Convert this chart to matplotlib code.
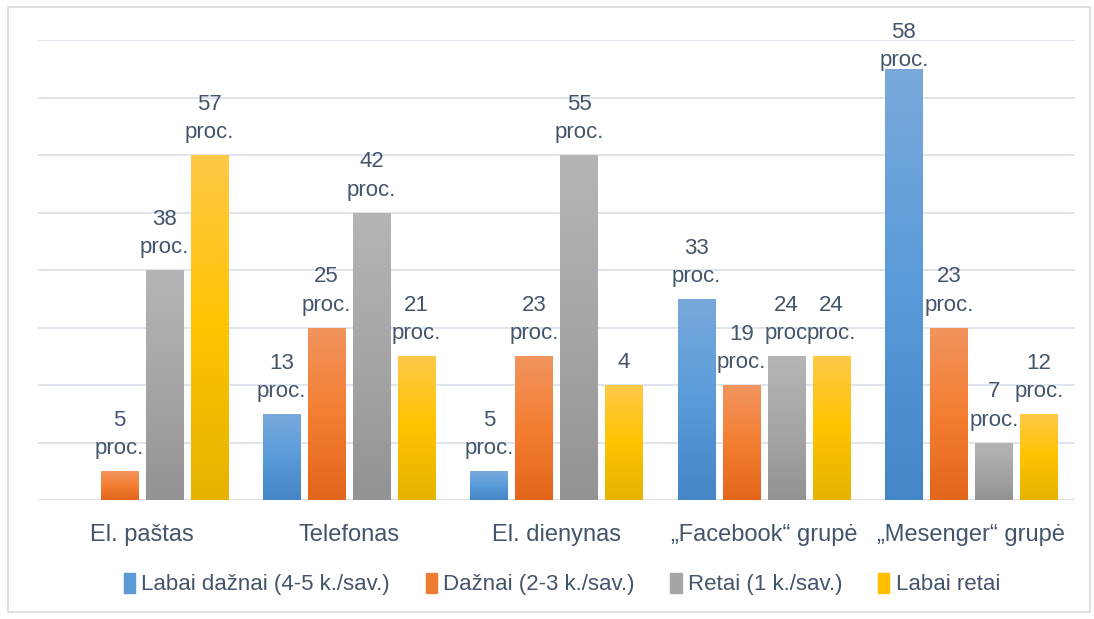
import numpy as np
import matplotlib
matplotlib.use("Agg")
import matplotlib.pyplot as plt
import matplotlib.patches as mpatches
from matplotlib.colors import LinearSegmentedColormap

plt.rcParams['font.family'] = ['Liberation Sans', 'DejaVu Sans']

# categories and series
categories = ['El. paštas', 'Telefonas', 'El. dienynas', '„Facebook“ grupė', '„Mesenger“ grupė']
series = ['Labai dažnai (4-5 k./sav.)', 'Dažnai (2-3 k./sav.)', 'Retai (1 k./sav.)', 'Labai retai']

# bar heights as drawn in the picture
labai_dazniai = [0, 3, 1, 7, 15]
dazniai = [1, 6, 5, 4, 6]
retai = [8, 10, 12, 5, 2]
labai_retai = [12, 5, 4, 5, 3]

# data labels as written on the chart
labels_labai_dazniai = ['', '13\nproc.', '5\nproc.', '33\nproc.', '58\nproc.']
labels_dazniai = ['5\nproc.', '25\nproc.', '23\nproc.', '19\nproc.', '23\nproc.']
labels_retai = ['38\nproc.', '42\nproc.', '55\nproc.', '24\nproc', '7\nproc.']
labels_labai_retai = ['57\nproc.', '21\nproc.', '4', '24\nproc.', '12\nproc.']

values = [labai_dazniai, dazniai, retai, labai_retai]
labels = [labels_labai_dazniai, labels_dazniai, labels_retai, labels_labai_retai]

# top, middle, bottom colours of each bar gradient
grads = [
    ['#79A9DC', '#5A9CDA', '#4486C6'],
    ['#F1945E', '#F47E32', '#E2661B'],
    ['#B5B5B5', '#A6A6A6', '#939393'],
    ['#FFC947', '#FFC300', '#E5B300'],
]
solid = ['#5B9BD5', '#ED7D31', '#A5A5A5', '#FFC000']
text_col = '#44546A'

fig = plt.figure(figsize=(10.94, 6.19), dpi=100)
# outer frame of the chart area
fig.patches.append(mpatches.Rectangle((8 / 1094, 7 / 619), 1082 / 1094, 605 / 619,
                                      transform=fig.transFigure, fill=False,
                                      edgecolor='#D9D9D9', linewidth=1.2))
ax = fig.add_axes([38 / 1094, 119 / 619, 1037 / 1094, 460 / 619])

x = np.arange(len(categories))
w = 0.18
step = 0.217

texts = []
for i in range(len(series)):
    pos = x + (i - 1.5) * step
    bars = ax.bar(pos, values[i], width=w, color=solid[i], zorder=2)
    cmap = LinearSegmentedColormap.from_list('g%d' % i, grads[i][::-1])
    for b in bars:
        h = b.get_height()
        if h <= 0:
            continue
        grad = np.linspace(0, 1, 100).reshape(-1, 1)
        im = ax.imshow(grad, cmap=cmap, aspect='auto', origin='lower',
                       extent=[b.get_x(), b.get_x() + b.get_width(), 0, h], zorder=3)
        im.set_clip_path(b)
    for p, v, t in zip(pos, values[i], labels[i]):
        if t:
            a = ax.annotate(t, (p, v), xytext=(0, 8.5), textcoords='offset points',
                            ha='center', va='bottom', fontsize=16, color=text_col,
                            linespacing=1.45, zorder=5)
            texts.append(a)

ax.set_xlim(-0.5, len(categories) - 0.5)
ax.set_ylim(0, 16)
ax.set_yticks(np.arange(0, 17, 2))
ax.yaxis.grid(True, color='#DDE2EA', linewidth=1.3, zorder=0)
ax.set_axisbelow(True)
ax.tick_params(axis='y', left=False, labelleft=False)
ax.tick_params(axis='x', length=0, pad=17, labelsize=17, labelcolor=text_col)
ax.set_xticks(x)
ax.set_xticklabels(categories)
for s in ax.spines.values():
    s.set_visible(False)
ax.axhline(0, color='#DDE2EA', linewidth=1.3, zorder=1)

handles = [mpatches.Patch(color=c, label=l) for c, l in zip(solid, series)]
fig.legend(handles=handles, loc='center', bbox_to_anchor=(562 / 1094, 35 / 619), ncol=4,
           frameon=False, fontsize=16, labelcolor=text_col, handlelength=0.5,
           handleheight=1.0, handletextpad=0.3, columnspacing=1.6)

# keep labels inside the chart area like the original (push down the ones too high)
fig.canvas.draw()
top_px = fig.bbox.height - 22
for a in texts:
    bb = a.get_window_extent()
    if bb.y1 > top_px:
        dy = (bb.y1 - top_px) * 72 / fig.dpi
        a.xyann = (0, 8.5 - dy)

fig.savefig('out.png', dpi=100)
